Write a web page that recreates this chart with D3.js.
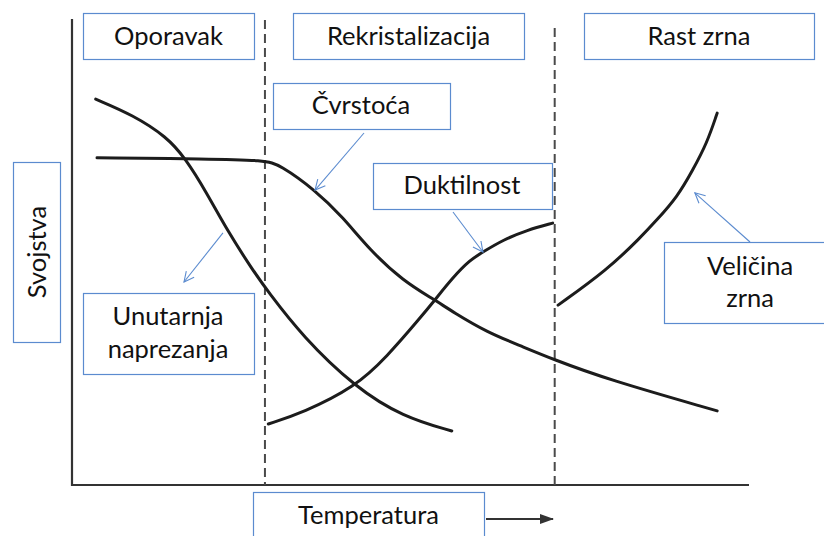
<!DOCTYPE html>
<html lang="hr">
<head>
<meta charset="UTF-8">
<script src="https://d3js.org/d3.v7.min.js"></script>
<style>
  body { margin: 0; background: #fff; }
  svg { display: block; }
  .box rect { fill: #fff; stroke: #5b8bcf; stroke-width: 1.2; }
  .box text { font-family: Lato, "Open Sans", sans-serif; font-size: 25.5px; fill: #111; text-anchor: middle; }
</style>
</head>
<body>
<div id="chart"></div>
<script>
// temperature (0-100) vs. property level (0-100)
const unutarnjaX = [3.5, 9.0, 14.0, 16.7, 19.9, 22.9, 26.7, 28.8, 34.1, 41.8, 48.9, 56.1];
const unutarnjaY = [82.8, 79.4, 74.7, 70.2, 62.7, 54.7, 46.1, 41.8, 31.8, 21.0, 14.6, 11.6];

const cvrstocaX = [3.7, 20.0, 28.5, 30.7, 35.9, 40.0, 44.0, 48.9, 53.6, 56.3, 61.3, 66.2, 71.0, 79.0, 95.3];
const cvrstocaY = [70.2, 70.0, 69.7, 68.7, 63.3, 57.5, 50.4, 43.8, 39.7, 37.1, 32.8, 29.9, 27.0, 22.7, 15.9];

const duktilnostX = [29.0, 34.1, 41.8, 46.5, 51.4, 53.6, 56.3, 58.8, 60.7, 63.7, 67.2, 71.0];
const duktilnostY = [13.1, 15.5, 21.0, 27.5, 35.8, 39.7, 44.6, 48.3, 50.0, 52.6, 54.7, 56.2];

const velicinaX = [71.8, 79.0, 83.9, 86.4, 89.4, 91.7, 93.8, 95.3];
const velicinaY = [38.6, 46.1, 53.0, 56.9, 61.8, 67.6, 73.4, 79.8];

const phaseBounds = [28.5, 71.3];
const phaseLabels = ["Oporavak", "Rekristalizacija", "Rast zrna"];
const curveLabels = [["Čvrstoća"], ["Duktilnost"], ["Veličina", "zrna"], ["Unutarnja", "naprezanja"]];
// point near each curve that the label arrow touches
const arrowX = [35.9, 60.7, 92.0, 22.3];
const arrowY = [63.3, 50.0, 62.7, 54.1];
const axisLabels = ["Svojstva", "Temperatura"];

const width = 824, height = 536;
const svg = d3.select("#chart").append("svg")
  .attr("width", width).attr("height", height);

const x = d3.scaleLinear().domain([0, 100]).range([72, 749]);
const y = d3.scaleLinear().domain([0, 100]).range([485, 19]);

const defs = svg.append("defs");
defs.append("marker").attr("id", "open")
  .attr("viewBox", "0 0 12 12").attr("refX", 11).attr("refY", 6)
  .attr("markerWidth", 12).attr("markerHeight", 12).attr("markerUnits", "userSpaceOnUse")
  .attr("orient", "auto")
  .append("path").attr("d", "M1,1 L11,6 L1,11")
  .attr("fill", "none").attr("stroke", "#5b8bcf").attr("stroke-width", 1.1);
defs.append("marker").attr("id", "solid")
  .attr("viewBox", "0 0 14 12").attr("refX", 13).attr("refY", 6)
  .attr("markerWidth", 14).attr("markerHeight", 12).attr("markerUnits", "userSpaceOnUse")
  .attr("orient", "auto")
  .append("path").attr("d", "M0,1 L14,6 L0,11 Z").attr("fill", "#333");

// axes
svg.append("path")
  .attr("d", `M${x(0)},${y(100)} L${x(0)},${y(0)} L${x(100)},${y(0)}`)
  .attr("fill", "none").attr("stroke", "#333").attr("stroke-width", 2.2);

// phase boundaries
svg.selectAll(".bound").data(phaseBounds).enter().append("line")
  .attr("x1", d => x(d)).attr("x2", d => x(d))
  .attr("y1", (d, i) => i ? 28 : 20).attr("y2", y(0))
  .attr("stroke", "#4a4a4a").attr("stroke-width", 2).attr("stroke-dasharray", "9,5");

// curves
const line = d3.line().x(d => x(d[0])).y(d => y(d[1])).curve(d3.curveBasis);
const series = [
  d3.zip(unutarnjaX, unutarnjaY),
  d3.zip(cvrstocaX, cvrstocaY),
  d3.zip(duktilnostX, duktilnostY),
  d3.zip(velicinaX, velicinaY)
];
svg.selectAll(".curve").data(series).enter().append("path")
  .attr("d", line)
  .attr("fill", "none").attr("stroke", "#1c1c1c").attr("stroke-width", 3)
  .attr("stroke-linecap", "round");

// label boxes (layout only)
const phaseBoxes = [[83, 13, 171, 46], [293, 13, 231, 46], [584, 13, 230, 46]];
const labelBoxes = [[273, 83, 177, 46], [373, 163, 179, 46], [664, 242, 170, 81], [83, 293, 171, 81]];
const labelCenters = [361, 462, 750, 168];
const labelBase = [[114], [194], [275, 307], [325, 358]];
// arrow ends on the box side, and whether the arrow head points at the curve
const arrowTail = [[364, 133], [453, 212], [750, 242], [184, 282]];
const headOnCurve = [true, true, true, false];

const drawBox = (b, lines, cx, bases) => {
  const g = svg.append("g").attr("class", "box");
  g.append("rect").attr("x", b[0] + 0.5).attr("y", b[1] + 0.5).attr("width", b[2]).attr("height", b[3]);
  lines.forEach((t, i) => g.append("text").attr("x", cx).attr("y", bases[i]).text(t));
  return g;
};

phaseLabels.forEach((t, i) => {
  const b = phaseBoxes[i];
  drawBox(b, [t], b[0] + b[2] / 2, [45]);
});

curveLabels.forEach((lines, i) => {
  drawBox(labelBoxes[i], lines, labelCenters[i], labelBase[i]);
  const p = [x(arrowX[i]), y(arrowY[i])];
  const t = arrowTail[i];
  const [a, b] = headOnCurve[i] ? [t, p] : [p, t];
  svg.append("line")
    .attr("x1", a[0]).attr("y1", a[1]).attr("x2", b[0]).attr("y2", b[1])
    .attr("stroke", "#5b8bcf").attr("stroke-width", 1.1)
    .attr("marker-end", "url(#open)");
});

// y label
const yb = svg.append("g").attr("class", "box");
yb.append("rect").attr("x", 13.5).attr("y", 162.5).attr("width", 47).attr("height", 180);
yb.append("text").attr("transform", "translate(46,252) rotate(-90)").text(axisLabels[0]);

// x label + arrow
drawBox([253, 492, 231, 60], [axisLabels[1]], 368.5, [524]);
svg.append("line")
  .attr("x1", 486).attr("y1", 519).attr("x2", 553).attr("y2", 519)
  .attr("stroke", "#333").attr("stroke-width", 2.2)
  .attr("marker-end", "url(#solid)");
</script>
</body>
</html>
